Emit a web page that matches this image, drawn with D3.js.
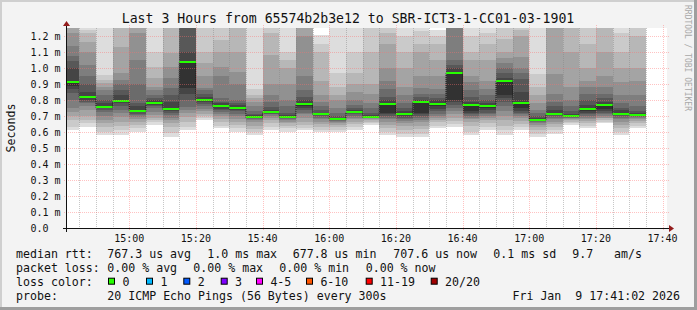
<!DOCTYPE html>
<html>
<head>
<meta charset="utf-8">
<script src="https://cdn.jsdelivr.net/npm/d3@7"></script>
<style>
    body { margin: 0; background: #f3f3f3; }
    svg { display: block; font-family: "DejaVu Sans Mono", monospace; }
</style>
</head>
<body>
<div id="chart"></div>
<script>
// start of each 5 minute step
const slots = ["14:40","14:45","14:50","14:55","15:00","15:05","15:10","15:15","15:20","15:25",
    "15:30","15:35","15:40","15:45","15:50","15:55","16:00","16:05","16:10","16:15",
    "16:20","16:25","16:30","16:35","16:40","16:45","16:50","16:55","17:00","17:05",
    "17:10","17:15","17:20","17:25","17:30"];

// median rtt per step (ms)
const medians = [0.914,0.821,0.758,0.796,0.733,0.783,0.746,1.040,0.802,0.763,
    0.750,0.696,0.727,0.694,0.777,0.7125,0.683,0.727,0.696,0.777,
    0.7125,0.785,0.777,0.971,0.770,0.763,0.921,0.783,0.677,0.715,
    0.700,0.746,0.769,0.715,0.708];

// 20 sorted pings per step (ms)
const pings = [
    [0.6125,0.633,0.675,0.70,0.727,0.748,0.80,0.842,0.87,0.89,0.915,1.0,1.046,1.075,1.14,1.217,1.3,1.35,1.4,1.5],
    [0.629,0.654,0.675,0.70,0.7375,0.76,0.779,0.79,0.80,0.815,0.825,0.852,0.90,0.95,1.02,1.102,1.16,1.217,1.24,1.3],
    [0.581,0.602,0.633,0.655,0.675,0.70,0.727,0.74,0.75,0.758,0.765,0.779,0.80,0.83,0.8625,0.883,0.905,0.925,0.956,1.3],
    [0.581,0.6125,0.64,0.665,0.696,0.72,0.7375,0.76,0.78,0.79,0.80,0.83,0.8625,0.90,0.925,0.967,1.133,1.3,1.35,1.4],
    [0.602,0.623,0.644,0.665,0.68,0.695,0.705,0.715,0.725,0.73,0.737,0.76,0.779,0.9,1.05,1.217,1.3,1.35,1.4,1.5],
    [0.644,0.66,0.675,0.69,0.706,0.725,0.748,0.76,0.77,0.778,0.788,0.80,0.815,0.831,0.86,0.883,0.94,1.008,1.1,1.3],
    [0.571,0.592,0.633,0.655,0.675,0.69,0.706,0.72,0.73,0.74,0.75,0.79,0.831,0.873,0.94,1.008,1.092,1.3,1.35,1.4],
    [0.6125,0.633,0.665,0.696,0.72,0.74,0.758,0.80,0.84,0.873,1.04,1.10,1.3,1.35,1.4,1.45,1.5,1.6,1.7,1.8],
    [0.675,0.69,0.70,0.715,0.73,0.745,0.76,0.775,0.785,0.795,0.805,0.82,0.84,0.86,0.873,0.95,1.03,1.1,1.3,1.4],
    [0.623,0.64,0.66,0.68,0.70,0.715,0.727,0.735,0.745,0.755,0.768,0.78,0.79,0.81,0.95,1.008,1.1,1.175,1.3,1.4],
    [0.602,0.623,0.644,0.665,0.68,0.70,0.715,0.73,0.74,0.746,0.755,0.77,0.78,0.80,0.90,0.977,1.1,1.25,1.3,1.4],
    [0.581,0.60,0.62,0.64,0.66,0.675,0.68,0.685,0.69,0.694,0.70,0.705,0.715,0.73,0.76,0.79,0.81,0.831,0.87,1.3],
    [0.6125,0.633,0.655,0.675,0.69,0.70,0.71,0.715,0.72,0.725,0.73,0.74,0.758,0.79,0.83,0.90,1.08,1.217,1.3,1.4],
    [0.602,0.623,0.64,0.655,0.665,0.675,0.68,0.685,0.69,0.693,0.696,0.705,0.717,0.76,0.80,0.90,1.0,1.05,1.1,1.3],
    [0.61,0.625,0.645,0.665,0.69,0.71,0.72,0.735,0.75,0.765,0.78,0.80,0.82,0.86,0.95,1.2,1.3,1.35,1.4,1.5],
    [0.60,0.615,0.633,0.65,0.665,0.68,0.69,0.70,0.705,0.71,0.715,0.72,0.74,0.76,0.79,0.83,0.92,1.1,1.15,1.206],
    [0.60,0.615,0.63,0.645,0.655,0.665,0.67,0.675,0.678,0.681,0.685,0.69,0.70,0.72,0.75,0.80,0.83,0.88,0.97,1.3],
    [0.6125,0.63,0.65,0.665,0.68,0.69,0.70,0.71,0.717,0.723,0.73,0.74,0.75,0.77,0.80,0.85,0.90,0.97,1.1,1.3],
    [0.644,0.655,0.665,0.675,0.68,0.685,0.688,0.69,0.692,0.694,0.698,0.705,0.72,0.75,0.78,0.84,0.90,1.1,1.3,1.4],
    [0.58,0.60,0.625,0.645,0.665,0.68,0.69,0.70,0.71,0.72,0.78,0.80,0.82,0.87,0.92,1.0,1.15,1.217,1.3,1.4],
    [0.571,0.59,0.615,0.64,0.655,0.67,0.68,0.69,0.70,0.705,0.715,0.73,0.75,0.78,0.83,0.88,1.0,1.1,1.2,1.3],
    [0.571,0.59,0.62,0.64,0.66,0.675,0.69,0.70,0.71,0.72,0.785,0.80,0.82,0.84,0.875,0.95,1.1,1.15,1.23,1.3],
    [0.625,0.64,0.66,0.675,0.69,0.70,0.715,0.73,0.745,0.76,0.78,0.80,0.815,0.84,0.87,0.95,1.05,1.15,1.2,1.24],
    [0.633,0.65,0.67,0.69,0.71,0.73,0.75,0.77,0.79,0.80,0.975,1.0,1.02,1.05,1.3,1.35,1.4,1.45,1.5,1.6],
    [0.58,0.60,0.64,0.665,0.68,0.69,0.70,0.71,0.72,0.73,0.775,0.79,0.82,0.86,0.91,0.95,1.05,1.1,1.2,1.3],
    [0.6125,0.633,0.655,0.675,0.69,0.70,0.71,0.72,0.735,0.75,0.77,0.78,0.80,0.83,0.87,0.92,1.05,1.15,1.22,1.3],
    [0.58,0.61,0.64,0.675,0.70,0.73,0.76,0.79,0.81,0.83,0.925,0.94,0.97,1.0,1.03,1.06,1.1,1.18,1.3,1.4],
    [0.6125,0.63,0.65,0.67,0.69,0.70,0.71,0.72,0.73,0.75,0.79,0.85,0.93,0.97,1.0,1.07,1.2,1.24,1.3,1.4],
    [0.571,0.59,0.61,0.63,0.645,0.655,0.665,0.67,0.672,0.675,0.68,0.69,0.70,0.72,0.74,0.78,0.83,0.88,0.96,1.3],
    [0.59,0.61,0.63,0.65,0.665,0.68,0.69,0.70,0.705,0.71,0.72,0.74,0.76,0.79,0.84,0.96,1.3,1.35,1.4,1.5],
    [0.644,0.655,0.665,0.675,0.68,0.685,0.69,0.693,0.696,0.698,0.702,0.71,0.73,0.76,0.80,0.88,1.1,1.3,1.35,1.4],
    [0.625,0.64,0.655,0.67,0.68,0.69,0.70,0.71,0.72,0.73,0.75,0.77,0.80,0.84,0.88,0.92,1.0,1.15,1.3,1.4],
    [0.654,0.665,0.675,0.685,0.69,0.70,0.71,0.72,0.73,0.745,0.77,0.79,0.81,0.84,0.88,0.95,1.1,1.25,1.3,1.4],
    [0.58,0.60,0.625,0.645,0.665,0.68,0.69,0.70,0.705,0.71,0.72,0.735,0.75,0.78,0.83,0.91,1.0,1.1,1.22,1.3],
    [0.625,0.64,0.655,0.67,0.68,0.69,0.695,0.70,0.703,0.705,0.71,0.72,0.73,0.76,0.83,0.92,1.0,1.2,1.3,1.4]
];

const xTickLabels = ["15:00","15:20","15:40","16:00","16:20","16:40","17:00","17:20","17:40"];
const yTicks = [0,0.1,0.2,0.3,0.4,0.5,0.6,0.7,0.8,0.9,1.0,1.1,1.2];

const titleText = "Last 3 Hours from 65574b2b3e12 to SBR-ICT3-1-CC01-03-1901";
const rttStats = ["767.3 us avg","1.0 ms max","677.8 us min","707.6 us now","0.1 ms sd","9.7","am/s"];
const lossStats = ["0.00 % avg","0.00 % max","0.00 % min","0.00 % now"];
const lossLabels = ["0","1","2","3","4-5","6-10","11-19","20/20"];
const lossColors = ["#26ff00","#00b8ff","#0059ff","#7e00ff","#ff00ff","#ff5500","#ff0000","#a00000"];
const probeText = "20 ICMP Echo Pings (56 Bytes) every 300s";
const stampText = "Fri Jan  9 17:41:02 2026";

// layout
const W = 697, H = 310;
const pLeft = 67, pRight = 667, pTop = 28, pBottom = 228;
const rttX = [107.3, 207.3, 292.7, 393.3, 493.3, 572.3, 614];
const lossX = [107.3, 193.3, 279.3, 365.7];
const boxX = [108, 146, 183.3, 220.7, 256, 306, 365.7, 430.7];

const toMin = s => +s.slice(0, 2) * 60 + +s.slice(3);
const fmt = m => d3.format("02")(Math.floor(m / 60)) + ":" + d3.format("02")(m % 60);

let svg = d3.select("#chart").append("svg")
    .attr("width", W)
    .attr("height", H);

// frame
svg.append("rect").attr("width", W).attr("height", H).attr("fill", "#f3f3f3");
svg.append("rect").attr("x", 0).attr("y", 0).attr("width", W).attr("height", 2).attr("fill", "#cfcfcf");
svg.append("rect").attr("x", 0).attr("y", 0).attr("width", 2).attr("height", H).attr("fill", "#cfcfcf");
svg.append("rect").attr("x", 0).attr("y", H - 3).attr("width", W).attr("height", 3).attr("fill", "#9e9e9e");
svg.append("rect").attr("x", W - 3).attr("y", 0).attr("width", 3).attr("height", H).attr("fill", "#9e9e9e");

// canvas
svg.append("rect")
    .attr("x", pLeft).attr("y", pTop)
    .attr("width", pRight - pLeft).attr("height", pBottom - pTop)
    .attr("fill", "#ffffff");

let t0 = toMin("14:41") + 20 / 60;
let scaleX = d3.scaleLinear().domain([t0, t0 + 180]).range([pLeft, pRight]);
let scaleY = d3.scaleLinear().domain([0, 1.25]).range([pBottom, pTop]);

svg.append("clipPath").attr("id", "clip")
    .append("rect").attr("x", pLeft).attr("y", pTop)
    .attr("width", pRight - pLeft).attr("height", pBottom - pTop);

let plot = svg.append("g").attr("clip-path", "url(#clip)");

// smoke: pair k covers ping k .. ping 19-k, darker towards the middle
let bands = [];
pings.forEach((p, i) => {
    let s = toMin(slots[i]);
    for (let k = 0; k < 10; k++) {
        let g = Math.floor(190 / 10 * (10 - (k + 1))) + 50;
        bands.push({s: s, lo: p[k], hi: p[19 - k], g: g});
    }
});

plot.selectAll(".smoke")
    .data(bands)
    .enter().append("rect")
    .attr("class", "smoke")
    .attr("x", d => scaleX(d.s))
    .attr("width", d => scaleX(d.s + 5) - scaleX(d.s))
    .attr("y", d => scaleY(d.hi))
    .attr("height", d => scaleY(d.lo) - scaleY(d.hi))
    .attr("fill", d => d3.rgb(d.g, d.g, d.g))
    .attr("shape-rendering", "crispEdges");

// grid
let minor = d3.range(toMin("14:45"), toMin("17:41"), 5).filter(m => m % 20 !== 0);
let major = xTickLabels.map(toMin);
let gridMinor = "rgba(130,130,130,0.45)";
let gridMajor = "rgba(255,110,110,0.42)";

svg.selectAll(".vminor")
    .data(minor)
    .enter().append("line")
    .attr("x1", d => Math.round(scaleX(d)) + 0.5)
    .attr("x2", d => Math.round(scaleX(d)) + 0.5)
    .attr("y1", pTop).attr("y2", pBottom + 2)
    .attr("stroke", gridMinor)
    .attr("stroke-dasharray", "1,1");

svg.selectAll(".vmajor")
    .data(major)
    .enter().append("line")
    .attr("x1", d => Math.round(scaleX(d)) + 0.5)
    .attr("x2", d => Math.round(scaleX(d)) + 0.5)
    .attr("y1", pTop - 3).attr("y2", pBottom + 3)
    .attr("stroke", gridMajor)
    .attr("stroke-dasharray", "1,1");

svg.selectAll(".hmajor")
    .data(yTicks.slice(1))
    .enter().append("line")
    .attr("x1", pLeft - 3).attr("x2", pRight + 3)
    .attr("y1", d => Math.round(scaleY(d)) + 0.5)
    .attr("y2", d => Math.round(scaleY(d)) + 0.5)
    .attr("stroke", gridMajor)
    .attr("stroke-dasharray", "1,1");

// median: dotted step line, green segments
let stepLine = d3.line()
    .x(d => scaleX(d[0]))
    .y(d => Math.round(scaleY(d[1])) + 0.5)
    .curve(d3.curveStepAfter);
let steps = slots.map((s, i) => [toMin(s), medians[i]]);
steps.push([toMin(slots[slots.length - 1]) + 5, medians[medians.length - 1]]);

plot.append("path")
    .attr("d", stepLine(steps))
    .attr("fill", "none")
    .attr("stroke", "#1a1a1a")
    .attr("stroke-dasharray", "1,1");

plot.selectAll(".med")
    .data(slots)
    .enter().append("line")
    .attr("x1", d => scaleX(toMin(d)))
    .attr("x2", d => scaleX(toMin(d) + 5))
    .attr("y1", (d, i) => Math.round(scaleY(medians[i])))
    .attr("y2", (d, i) => Math.round(scaleY(medians[i])))
    .attr("stroke", lossColors[0])
    .attr("stroke-width", 2);

// axes
svg.append("line")
    .attr("x1", pLeft - 4).attr("x2", pRight + 3)
    .attr("y1", pBottom + 0.5).attr("y2", pBottom + 0.5)
    .attr("stroke", "#111");
svg.append("line")
    .attr("x1", pLeft - 0.5).attr("x2", pLeft - 0.5)
    .attr("y1", pBottom + 4).attr("y2", pTop - 4)
    .attr("stroke", "#111");
svg.append("path")
    .attr("d", `M${pRight + 2},${pBottom - 3}L${pRight + 7},${pBottom + 0.5}L${pRight + 2},${pBottom + 4}Z`)
    .attr("fill", "#931c1c");
svg.append("path")
    .attr("d", `M${pLeft - 4},${pTop - 2}L${pLeft - 0.5},${pTop - 7}L${pLeft + 3},${pTop - 2}Z`)
    .attr("fill", "#931c1c");

// tick labels
let axisFont = "10px";
svg.selectAll(".ylab")
    .data(yTicks)
    .enter().append("text")
    .attr("x", 30.5)
    .attr("y", d => scaleY(d) + 3.7)
    .style("font-size", axisFont)
    .attr("fill", "#111")
    .text(d => d === 0 ? "0.0" : d3.format(".1f")(d) + " m");

svg.selectAll(".xlab")
    .data(major)
    .enter().append("text")
    .attr("x", d => scaleX(d))
    .attr("y", 242)
    .attr("text-anchor", "middle")
    .style("font-size", axisFont)
    .attr("fill", "#111")
    .text(d => fmt(d));

// title, unit, watermark
svg.append("text")
    .attr("x", 348)
    .attr("y", 22.5)
    .attr("text-anchor", "middle")
    .style("font-size", "13.2px")
    .attr("fill", "#111")
    .text(titleText);

svg.append("text")
    .attr("transform", "translate(15,128) rotate(-90)")
    .attr("text-anchor", "middle")
    .style("font-size", "11.6px")
    .attr("fill", "#111")
    .text("Seconds");

svg.append("text")
    .attr("transform", "translate(685,5) rotate(90)")
    .style("font-size", "8px")
    .attr("fill", "#a8a8a8")
    .text("RRDTOOL / TOBI OETIKER");

// legend
let lg = svg.append("g")
    .style("font-size", "11.6px")
    .attr("fill", "#111");
let rows = [257.7, 271.7, 285.7, 299.7];

lg.append("text").attr("x", 16).attr("y", rows[0]).text("median rtt:");
lg.selectAll(".rtt").data(rttStats).enter().append("text")
    .attr("x", (d, i) => rttX[i]).attr("y", rows[0]).text(d => d);

lg.append("text").attr("x", 16).attr("y", rows[1]).text("packet loss:");
lg.selectAll(".loss").data(lossStats).enter().append("text")
    .attr("x", (d, i) => lossX[i]).attr("y", rows[1]).text(d => d);

lg.append("text").attr("x", 16).attr("y", rows[2]).text("loss color:");
lg.selectAll(".lbox").data(lossLabels).enter().append("rect")
    .attr("x", (d, i) => boxX[i] + 0.5).attr("y", rows[2] - 7.5)
    .attr("width", 6).attr("height", 6)
    .attr("fill", (d, i) => lossColors[i])
    .attr("stroke", "#000");
lg.selectAll(".ltxt").data(lossLabels).enter().append("text")
    .attr("x", (d, i) => boxX[i] + 14.4).attr("y", rows[2]).text(d => d);

lg.append("text").attr("x", 16).attr("y", rows[3]).text("probe:");
lg.append("text").attr("x", 107.3).attr("y", rows[3]).text(probeText);
lg.append("text").attr("x", 680).attr("y", rows[3])
    .attr("text-anchor", "end")
    .attr("xml:space", "preserve")
    .style("white-space", "pre")
    .text(stampText);
</script>
</body>
</html>
